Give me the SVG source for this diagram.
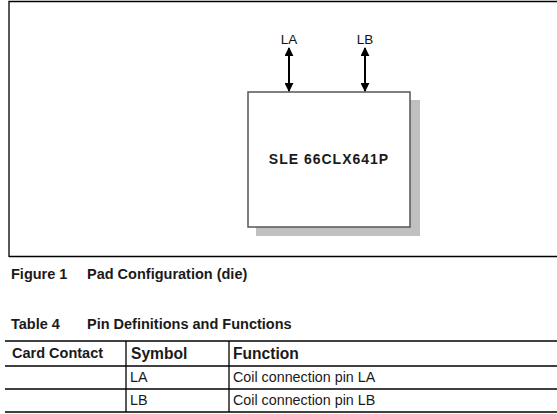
<svg xmlns="http://www.w3.org/2000/svg" width="557" height="414" viewBox="0 0 557 414">
<defs>
<style>
.b{font-family:"Liberation Sans",Arial,sans-serif;font-weight:bold;font-size:14.5px;fill:#1a1a1a}
.r{font-family:"Liberation Sans",Arial,sans-serif;font-size:14.3px;fill:#1a1a1a}
.h{font-family:"Liberation Sans",Arial,sans-serif;font-weight:bold;font-size:15.6px;fill:#1a1a1a}
.lbl{font-family:"Liberation Sans",Arial,sans-serif;font-size:13.5px;fill:#111;text-anchor:middle}
.tl{stroke:#000;stroke-width:1.3}
</style>
<marker id="ah" viewBox="0 0 10 10" refX="9" refY="5" markerWidth="4.5" markerHeight="4.5" orient="auto-start-reverse">
<path d="M0,0 L10,5 L0,10 z" fill="#000"/>
</marker>
</defs>
<rect width="557" height="414" fill="#fff"/>
<path d="M9,257 V1.5 H560 M9,256.5 H560" fill="none" stroke="#000" stroke-width="1.3"/>
<g id="chip">
<rect x="256" y="100" width="164" height="136" fill="#c0c0c0"/>
<rect x="248" y="92" width="162" height="135" fill="#fff" stroke="#555" stroke-width="1.5"/>
<text x="329" y="164" class="b" letter-spacing="1" text-anchor="middle" style="font-size:14px">SLE 66CLX641P</text>
</g>
<g id="LA"><text x="289" y="44" class="lbl">LA</text></g>
<g id="LB"><text x="365" y="44" class="lbl">LB</text></g>
<g id="connectors" stroke="#000" stroke-width="2">
<line x1="289" y1="48" x2="289" y2="91" marker-start="url(#ah)" marker-end="url(#ah)"/>
<line x1="365" y1="48" x2="365" y2="91" marker-start="url(#ah)" marker-end="url(#ah)"/>
</g>
<g id="captions">
<text x="11" y="279" class="b">Figure 1</text>
<text x="87" y="279" class="b">Pad Configuration (die)</text>
<text x="11" y="329" class="b">Table 4</text>
<text x="87" y="329" class="b">Pin Definitions and Functions</text>
</g>
<g id="table">
<line class="tl" x1="5" y1="341" x2="557" y2="341"/>
<line class="tl" x1="5" y1="366" x2="557" y2="366"/>
<line class="tl" x1="5" y1="389" x2="557" y2="389"/>
<line class="tl" x1="5" y1="412" x2="557" y2="412"/>
<line class="tl" x1="126" y1="341" x2="126" y2="412"/>
<line class="tl" x1="229" y1="341" x2="229" y2="412"/>
<text x="12" y="358" class="b">Card Contact</text>
<text x="131" y="359" class="h">Symbol</text>
<text x="233" y="359" class="h">Function</text>
<text x="130" y="382" class="r">LA</text>
<text x="233" y="382" class="r">Coil connection pin LA</text>
<text x="130" y="405" class="r">LB</text>
<text x="233" y="405" class="r">Coil connection pin LB</text>
</g>
</svg>
